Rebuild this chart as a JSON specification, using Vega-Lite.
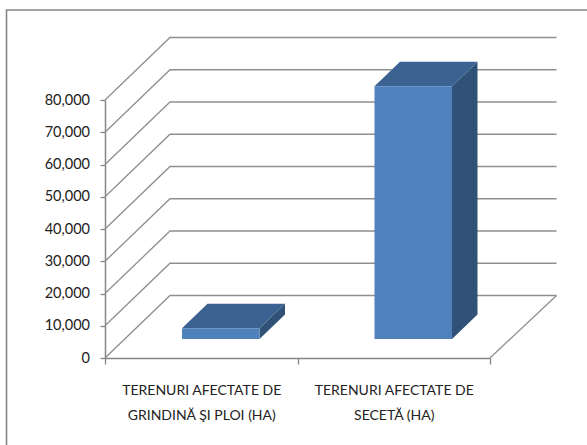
{
"$schema":"https://vega.github.io/schema/vega-lite/v6.json",
"autosize":"none","width":385,"height":258,
"padding":{"left":105,"top":100,"right":97,"bottom":87},
"background":"white",
"config":{"view":{"stroke":null},
"axisY":{"grid":false,"labelFont":"Lato","labelFontSize":14.5,"labelColor":"#222222","labelPadding":10.5,"tickSize":5,"tickColor":"#868686","domainColor":"#868686","domainWidth":1.5,"tickWidth":1.3},
"axisX":{"labelAngle":0,"labelAlign":"center","labelBaseline":"top","labelFont":"Lato","labelFontSize":14,"labelColor":"#222222","labelPadding":19.5,"labelLineHeight":25,"labelLimit":300,"tickBand":"extent","tickSize":6,"tickColor":"#868686","domainColor":"#868686","domainWidth":1.5,"tickWidth":1.3}},
"datasets":{
"bars":[{"category":"TERENURI AFECTATE DE GRINDINĂ ŞI PLOI (HA)","value":3300},{"category":"TERENURI AFECTATE DE SECETĂ (HA)","value":78400}],
"levels":[{"level":0},{"level":10000},{"level":20000},{"level":30000},{"level":40000},{"level":50000},{"level":60000},{"level":70000},{"level":80000}],
"sides":[
{"category":"TERENURI AFECTATE DE GRINDINĂ ŞI PLOI (HA)","depth":0,"top":3300,"base":0},
{"category":"TERENURI AFECTATE DE GRINDINĂ ŞI PLOI (HA)","depth":1,"top":10897,"base":7597},
{"category":"TERENURI AFECTATE DE SECETĂ (HA)","depth":0,"top":78400,"base":0},
{"category":"TERENURI AFECTATE DE SECETĂ (HA)","depth":1,"top":85997,"base":7597}
],
"frame":[{"level":0}]
},
"layer":[
{"data":{"name":"frame"},
"mark":{"type":"point","shape":"M-98.5,87L-98.5,-348L482,-348","size":4,"filled":false,"stroke":"#868686","strokeWidth":1.6,"opacity":1},
"encoding":{"x":{"value":0},"y":{"field":"level","type":"quantitative","scale":{"domain":[0,80000],"nice":false},"axis":{"title":null,"values":[0,10000,20000,30000,40000,50000,60000,70000,80000],"format":",.0f"}}}},
{"data":{"name":"levels"},
"mark":{"type":"point","shape":"M0,0L65,-62.5L451.5,-62.5","size":4,"filled":false,"stroke":"#8f8f8f","strokeWidth":1.3,"opacity":1},
"encoding":{"x":{"value":0},"y":{"field":"level","type":"quantitative","axis":{"title":null,"values":[0,10000,20000,30000,40000,50000,60000,70000,80000],"format":",.0f"}}}},
{"data":{"name":"frame"},
"mark":{"type":"point","shape":"M385,0L451.5,-62.5","size":4,"filled":false,"stroke":"#8f8f8f","strokeWidth":1.3,"opacity":1},
"encoding":{"x":{"value":0},"y":{"field":"level","type":"quantitative","axis":{"title":null,"values":[0,10000,20000,30000,40000,50000,60000,70000,80000],"format":",.0f"}}}},
{"data":{"name":"sides"},
"mark":{"type":"area","color":"#315277","opacity":1,"yOffset":-19,"y2Offset":-19},
"encoding":{
"x":{"field":"category","type":"nominal","sort":null,"axis":{"title":null,"labelExpr":"split(replace(datum.label,' DE ',' DE|'),'|')"}},
"xOffset":{"field":"depth","type":"quantitative","scale":{"domain":[0,1],"range":[154.5,180]}},
"detail":{"field":"category"},
"y":{"field":"top","type":"quantitative","stack":null,"axis":{"title":null,"values":[0,10000,20000,30000,40000,50000,60000,70000,80000],"format":",.0f"}},
"y2":{"field":"base"}}},
{"data":{"name":"bars"},
"mark":{"type":"point","shape":"M-19.25,-19L58.25,-19L83.75,-43.5L6.25,-43.5Z","size":4,"filled":true,"color":"#3c6291","opacity":1},
"encoding":{"x":{"field":"category","type":"nominal","sort":null,"axis":{"title":null,"labelExpr":"split(replace(datum.label,' DE ',' DE|'),'|')"}},"y":{"field":"value","type":"quantitative","axis":{"title":null,"values":[0,10000,20000,30000,40000,50000,60000,70000,80000],"format":",.0f"}}}},
{"data":{"name":"bars"},
"mark":{"type":"bar","size":77.5,"color":"#4f81bd","xOffset":19.5,"yOffset":-19,"y2Offset":-19},
"encoding":{
"x":{"field":"category","type":"nominal","sort":null,"scale":{"paddingInner":0,"paddingOuter":0},"axis":{"title":null,"labelExpr":"split(replace(datum.label,' DE ',' DE|'),'|')"}},
"y":{"field":"value","type":"quantitative","stack":null,"axis":{"title":null,"values":[0,10000,20000,30000,40000,50000,60000,70000,80000],"format":",.0f"}},
"y2":{"datum":0}}}
]
}
